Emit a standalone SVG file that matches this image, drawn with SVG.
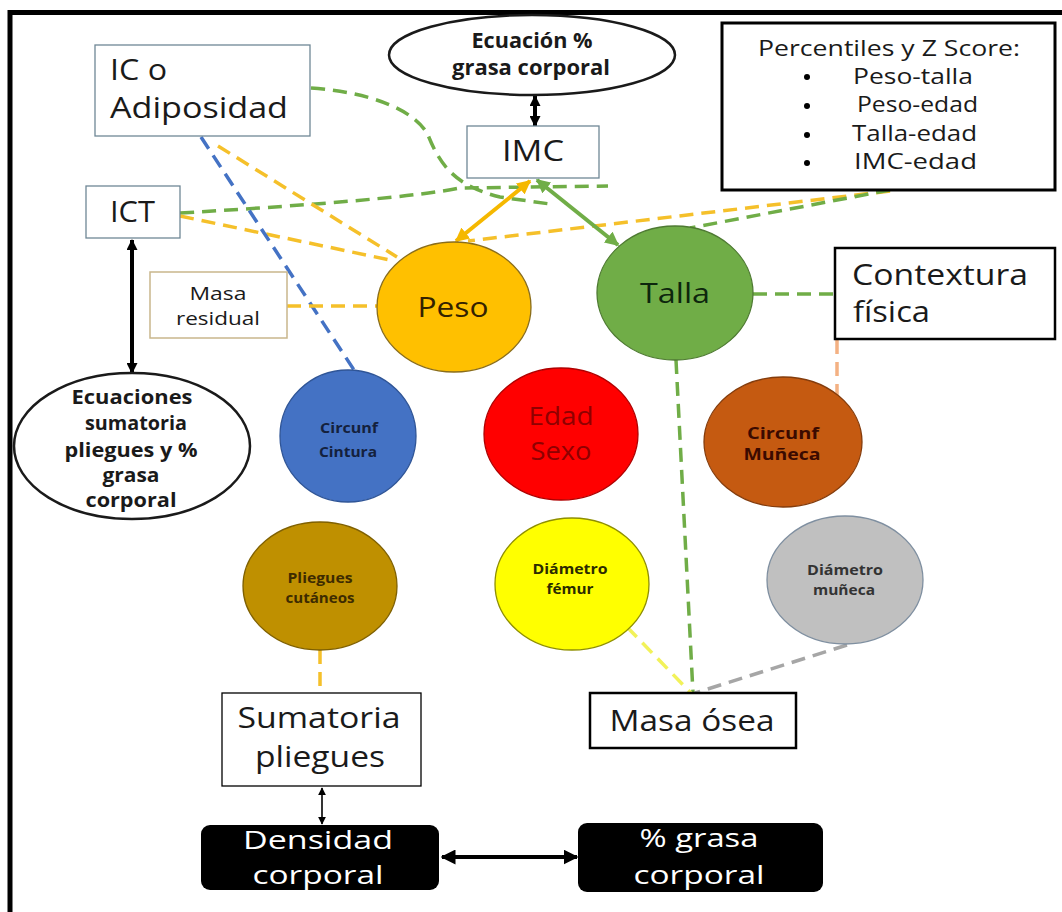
<svg xmlns="http://www.w3.org/2000/svg" width="1062" height="912" viewBox="0 0 1062 912">
<defs>
<style>
text{font-family:"Open Sans","Liberation Sans",sans-serif;fill:#1a1a1a}
.big{font-size:30px}
.mid{font-size:21px}
.b{font-weight:bold}
.c{text-anchor:middle}
.box{fill:#fff;stroke:#6f8796;stroke-width:1.3}
.kbox{fill:#fff;stroke:#000;stroke-width:2.5}
.dash{fill:none;stroke-width:3.5;stroke-dasharray:14 8}
.g{stroke:#70AD47}
.y{stroke:#F5C02A}
.bl{stroke:#4472C4}
.gr{stroke:#A6A6A6}
.ly{stroke:#F2F25A}
.or{stroke:#F4B183}
.circ{stroke-width:1.3}
.wt{font-size:26px;fill:#fff}
</style>
<marker id="hk" viewBox="0 0 10 10" refX="9" refY="5" markerWidth="12" markerHeight="11" markerUnits="userSpaceOnUse" orient="auto-start-reverse"><path d="M0,0 L10,5 L0,10 z" fill="#000"/></marker>
<marker id="hks" viewBox="0 0 10 10" refX="9" refY="5" markerWidth="8" markerHeight="8" markerUnits="userSpaceOnUse" orient="auto-start-reverse"><path d="M0,0 L10,5 L0,10 z" fill="#000"/></marker>
<marker id="hkb" viewBox="0 0 10 10" refX="9" refY="5" markerWidth="15" markerHeight="15" markerUnits="userSpaceOnUse" orient="auto-start-reverse"><path d="M0,0 L10,5 L0,10 z" fill="#000"/></marker>
<marker id="hy" viewBox="0 0 10 10" refX="9" refY="5" markerWidth="14" markerHeight="14" markerUnits="userSpaceOnUse" orient="auto-start-reverse"><path d="M0,0 L10,5 L0,10 z" fill="#F5B800"/></marker>
<marker id="hg" viewBox="0 0 10 10" refX="9" refY="5" markerWidth="14" markerHeight="14" markerUnits="userSpaceOnUse" orient="auto-start-reverse"><path d="M0,0 L10,5 L0,10 z" fill="#70AD47"/></marker>
</defs>
<rect width="1062" height="912" fill="#fff"/>
<path d="M10,912 V12.5 H1062" fill="none" stroke="#000" stroke-width="5"/>

<g id="connectors">
<path class="dash g" d="M311,88 C370,92 415,110 428,135 C440,165 455,186 500,197 L550,204"/>
<path class="dash g" d="M180,213 Q400,200 460,188 L608,186"/>
<path class="dash y" d="M218,146 L397,257"/>
<path class="dash y" d="M180,216 L390,260"/>
<path class="dash bl" d="M201,137 L356,373"/>
<path class="dash y" d="M287,306 L378,306"/>
<path class="dash y" d="M890,191 L468,241"/>
<path class="dash g" d="M890,190 L690,228"/>
<path class="dash g" d="M753,294 L835,294"/>
<path class="dash or" d="M837,296 L837,395"/>
<path class="dash g" d="M676,360 L693,693"/>
<path class="dash ly" d="M627,627 L691,693"/>
<path class="dash gr" d="M847,645 L695,693"/>
<path class="dash y" d="M320,650 L320,693"/>
<line x1="530" y1="181" x2="456" y2="241" stroke="#F5B800" stroke-width="4" marker-start="url(#hy)" marker-end="url(#hy)"/>
<line x1="537" y1="180" x2="618" y2="245" stroke="#70AD47" stroke-width="4" marker-start="url(#hg)" marker-end="url(#hg)"/>
<line x1="535" y1="96" x2="535" y2="126" stroke="#000" stroke-width="4" marker-start="url(#hk)" marker-end="url(#hk)"/>
<line x1="132" y1="240" x2="132" y2="373" stroke="#000" stroke-width="4" marker-start="url(#hk)" marker-end="url(#hk)"/>
<line x1="322" y1="788" x2="322" y2="824" stroke="#000" stroke-width="1.6" marker-start="url(#hks)" marker-end="url(#hks)"/>
<line x1="442" y1="857" x2="577" y2="857" stroke="#000" stroke-width="4" marker-start="url(#hkb)" marker-end="url(#hkb)"/>
</g>

<g id="ic-adiposidad">
<rect class="box" x="95" y="45" width="215" height="91"/>
<text class="big" x="110" y="80" textLength="57" lengthAdjust="spacingAndGlyphs">IC o</text>
<text class="big" x="110" y="118" textLength="178" lengthAdjust="spacingAndGlyphs">Adiposidad</text>
</g>

<g id="ict">
<rect class="box" x="86" y="186" width="94" height="52"/>
<text class="big" x="110" y="222" textLength="45" lengthAdjust="spacingAndGlyphs">ICT</text>
</g>

<g id="ecuacion-grasa">
<ellipse cx="532" cy="55" rx="143" ry="40" fill="#fff" stroke="#1a1a1a" stroke-width="2.5"/>
<text class="mid b c" x="532" y="48" textLength="121" lengthAdjust="spacingAndGlyphs">Ecuación %</text>
<text class="mid b c" x="531" y="75" textLength="158" lengthAdjust="spacingAndGlyphs">grasa corporal</text>
</g>

<g id="imc">
<rect class="box" x="467" y="126" width="132" height="52"/>
<text class="big c" x="533" y="161" textLength="62" lengthAdjust="spacingAndGlyphs">IMC</text>
</g>

<g id="percentiles">
<rect x="722" y="23" width="333" height="167" fill="#fff" stroke="#000" stroke-width="3"/>
<text class="mid c" x="889" y="56" font-size="22" textLength="262" lengthAdjust="spacingAndGlyphs">Percentiles y Z Score:</text>
<circle cx="807" cy="77" r="3"/>
<circle cx="807" cy="106" r="3"/>
<circle cx="807" cy="135" r="3"/>
<circle cx="807" cy="163" r="3"/>
<text class="mid" x="853" y="84" font-size="22" textLength="120" lengthAdjust="spacingAndGlyphs">Peso-talla</text>
<text class="mid" x="857" y="112" font-size="22" textLength="121" lengthAdjust="spacingAndGlyphs">Peso-edad</text>
<text class="mid" x="852" y="141" font-size="22" textLength="125" lengthAdjust="spacingAndGlyphs">Talla-edad</text>
<text class="mid" x="854" y="169" font-size="22" textLength="123" lengthAdjust="spacingAndGlyphs">IMC-edad</text>
</g>

<g id="masa-residual">
<rect x="150" y="272" width="137" height="66" fill="#fff" stroke="#C9B68C" stroke-width="1.5"/>
<text class="c" x="218" y="300" font-size="18" textLength="57" lengthAdjust="spacingAndGlyphs">Masa</text>
<text class="c" x="218" y="325" font-size="18" textLength="84" lengthAdjust="spacingAndGlyphs">residual</text>
</g>

<g id="ecuaciones-sumatoria">
<ellipse cx="132" cy="446" rx="118" ry="73" fill="#fff" stroke="#1a1a1a" stroke-width="2.5"/>
<text class="c b" x="132" y="404" font-size="19" textLength="121" lengthAdjust="spacingAndGlyphs">Ecuaciones</text>
<text class="c b" x="136" y="430" font-size="19" textLength="102" lengthAdjust="spacingAndGlyphs">sumatoria</text>
<text class="c b" x="131" y="457" font-size="19" textLength="133" lengthAdjust="spacingAndGlyphs">pliegues y %</text>
<text class="c b" x="131" y="482" font-size="19" textLength="57" lengthAdjust="spacingAndGlyphs">grasa</text>
<text class="c b" x="131" y="507" font-size="19" textLength="91" lengthAdjust="spacingAndGlyphs">corporal</text>
</g>

<g id="peso">
<ellipse class="circ" cx="454" cy="307" rx="77" ry="65" fill="#FFC000" stroke="#8a6d1a"/>
<text class="c" x="453" y="317" font-size="28" style="fill:#332200" textLength="71" lengthAdjust="spacingAndGlyphs">Peso</text>
</g>

<g id="talla">
<ellipse class="circ" cx="675" cy="293" rx="78" ry="67" fill="#70AD47" stroke="#4e7a32"/>
<text class="c" x="675" y="303" font-size="28" style="fill:#0d260d" textLength="70" lengthAdjust="spacingAndGlyphs">Talla</text>
</g>

<g id="contextura">
<rect class="kbox" x="835" y="248" width="220" height="91"/>
<text class="big" x="852" y="285" textLength="176" lengthAdjust="spacingAndGlyphs">Contextura</text>
<text class="big" x="853" y="322" textLength="77" lengthAdjust="spacingAndGlyphs">física</text>
</g>

<g id="circunf-cintura">
<ellipse class="circ" cx="348" cy="436" rx="68" ry="66" fill="#4472C4" stroke="#2f5597"/>
<text class="c b" x="349" y="433" font-size="15" style="fill:#14213d" textLength="58" lengthAdjust="spacingAndGlyphs">Circunf</text>
<text class="c b" x="348" y="457" font-size="15" style="fill:#14213d" textLength="58" lengthAdjust="spacingAndGlyphs">Cintura</text>
</g>

<g id="edad-sexo">
<ellipse class="circ" cx="561" cy="434" rx="77" ry="66" fill="#FF0000" stroke="#b00000"/>
<text class="c" x="561" y="425" font-size="26" style="fill:#8f0000" textLength="65" lengthAdjust="spacingAndGlyphs">Edad</text>
<text class="c" x="561" y="460" font-size="26" style="fill:#8f0000" textLength="61" lengthAdjust="spacingAndGlyphs">Sexo</text>
</g>

<g id="circunf-muneca">
<ellipse class="circ" cx="783" cy="442" rx="79" ry="65" fill="#C55A11" stroke="#843c0c"/>
<text class="c b" x="783" y="439" font-size="16" style="fill:#3b0a00" textLength="72" lengthAdjust="spacingAndGlyphs">Circunf</text>
<text class="c b" x="782" y="460" font-size="16" style="fill:#3b0a00" textLength="77" lengthAdjust="spacingAndGlyphs">Muñeca</text>
</g>

<g id="pliegues-cutaneos">
<ellipse class="circ" cx="320" cy="586" rx="77" ry="64" fill="#BF9000" stroke="#7f6000"/>
<text class="c b" x="320" y="583" font-size="14" style="fill:#3d2b00" textLength="65" lengthAdjust="spacingAndGlyphs">Pliegues</text>
<text class="c b" x="320" y="603" font-size="14" style="fill:#3d2b00" textLength="69" lengthAdjust="spacingAndGlyphs">cutáneos</text>
</g>

<g id="diametro-femur">
<ellipse class="circ" cx="572" cy="584" rx="77" ry="66" fill="#FFFF00" stroke="#8f8f00"/>
<text class="c b" x="570" y="574" font-size="14" style="fill:#2b2b00" textLength="75" lengthAdjust="spacingAndGlyphs">Diámetro</text>
<text class="c b" x="570" y="594" font-size="14" style="fill:#2b2b00" textLength="47" lengthAdjust="spacingAndGlyphs">fémur</text>
</g>

<g id="diametro-muneca">
<ellipse class="circ" cx="845" cy="580" rx="78" ry="64" fill="#C0C0C0" stroke="#7f8fa0"/>
<text class="c b" x="845" y="575" font-size="14" style="fill:#333" textLength="76" lengthAdjust="spacingAndGlyphs">Diámetro</text>
<text class="c b" x="844" y="595" font-size="14" style="fill:#333" textLength="62" lengthAdjust="spacingAndGlyphs">muñeca</text>
</g>

<g id="sumatoria-pliegues">
<rect x="222" y="693" width="199" height="93" fill="#fff" stroke="#000" stroke-width="1.3"/>
<text class="big c" x="319" y="728" textLength="163" lengthAdjust="spacingAndGlyphs">Sumatoria</text>
<text class="big c" x="320" y="767" textLength="130" lengthAdjust="spacingAndGlyphs">pliegues</text>
</g>

<g id="masa-osea">
<rect class="kbox" x="590" y="693" width="206" height="55"/>
<text class="big c" x="692" y="731" font-size="29" textLength="165" lengthAdjust="spacingAndGlyphs">Masa ósea</text>
</g>

<g id="densidad-corporal">
<rect x="201" y="825" width="238" height="65" rx="9" fill="#000"/>
<text class="wt c" x="318" y="849" textLength="150" lengthAdjust="spacingAndGlyphs">Densidad</text>
<text class="wt c" x="318" y="884" textLength="131" lengthAdjust="spacingAndGlyphs">corporal</text>
</g>

<g id="grasa-corporal">
<rect x="578" y="823" width="245" height="69" rx="9" fill="#000"/>
<text class="wt c" x="699" y="847" textLength="119" lengthAdjust="spacingAndGlyphs">% grasa</text>
<text class="wt c" x="699" y="884" textLength="131" lengthAdjust="spacingAndGlyphs">corporal</text>
</g>
</svg>
